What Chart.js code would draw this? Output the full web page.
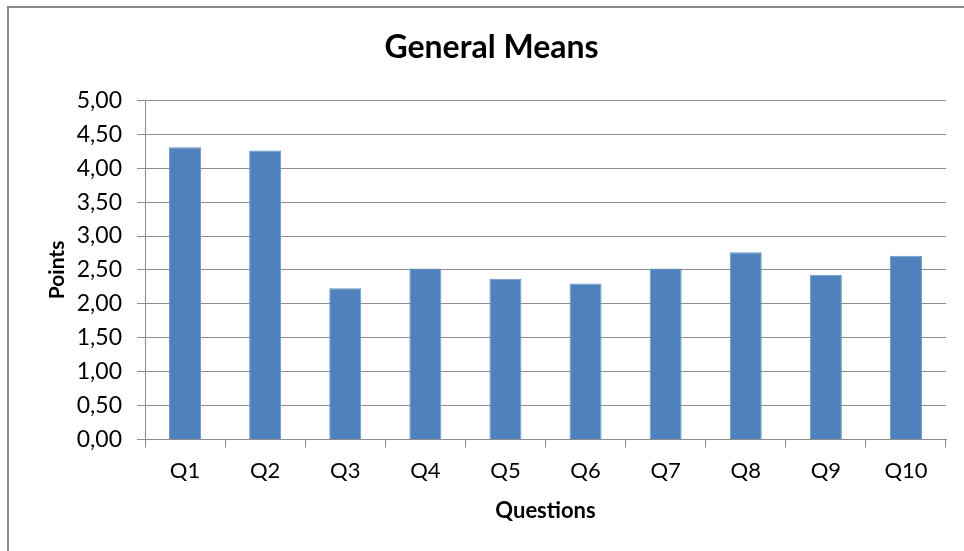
<!DOCTYPE html>
<html lang="en">
<head>
<meta charset="UTF-8">
<title>General Means</title>
<script src="https://cdn.jsdelivr.net/npm/chart.js@4.4.1/dist/chart.umd.min.js"></script>
<style>
  html, body { margin: 0; padding: 0; background: #ffffff; overflow: hidden; }
  #frame {
    position: absolute; left: 7px; top: 6px;
    width: 2000px; height: 2000px;
    border: 2px solid #8a8a8a;
  }
  #chart_canvas { position: absolute; left: 0; top: 0; }
</style>
</head>
<body>
<div id="frame"></div>
<canvas id="chart_canvas" width="983" height="551"></canvas>

<script>
    // data
    var questions = ["Q1", "Q2", "Q3", "Q4", "Q5", "Q6", "Q7", "Q8", "Q9", "Q10"];
    var means = [4.31, 4.26, 2.23, 2.52, 2.37, 2.30, 2.52, 2.76, 2.43, 2.71];
    var y_min = 0;
    var y_max = 5;
    var y_step = 0.5;

    var grey = "#8c8c8c";
    var font_family = "Lato, 'Open Sans', sans-serif";

    window._chart = new Chart(
        document.getElementById("chart_canvas"), {
            type: "bar",

            data: {
                labels: questions,
                datasets: [
                    {
                        label: "Means",
                        data: means,
                        backgroundColor: "#4f81bd",
                        borderColor: "#6d96c9",
                        borderWidth: 1,
                        barPercentage: 0.4,
                        categoryPercentage: 1.0
                    }
                ]
            },

            options: {
                responsive: false,
                animation: false,
                devicePixelRatio: 1,
                layout: {
                    padding: 0
                },
                plugins: {
                    legend: { display: false },
                    tooltip: { enabled: false },
                    title: {
                        display: true,
                        text: "General Means",
                        color: "#000000",
                        font: { family: font_family, size: 32, weight: "bold" },
                        padding: { top: 28, bottom: 34 }
                    }
                },
                scales: {
                    x: {
                        offset: true,
                        afterFit: function(scale) { scale.height = 111.5; },
                        grid: {
                            display: true,
                            offset: true,
                            drawOnChartArea: false,
                            drawTicks: true,
                            tickLength: 8,
                            color: grey
                        },
                        border: { display: true, color: grey, width: 1 },
                        ticks: {
                            color: "#000000",
                            padding: 10,
                            font: { family: font_family, size: 22 }
                        },
                        title: {
                            display: true,
                            text: "Questions",
                            color: "#000000",
                            font: { family: font_family, size: 22, weight: "bold" },
                            padding: { top: 0, bottom: 27 }
                        }
                    },
                    y: {
                        min: y_min,
                        max: y_max,
                        afterFit: function(scale) { scale.width = 145; },
                        grid: {
                            color: grey,
                            drawTicks: true,
                            tickLength: 8
                        },
                        border: { display: true, color: grey, width: 1 },
                        ticks: {
                            stepSize: y_step,
                            color: "#000000",
                            padding: 15,
                            font: { family: font_family, size: 23 },
                            callback: function(value) {
                                return value.toFixed(2).replace(".", ",");
                            }
                        },
                        title: {
                            display: true,
                            text: "Points",
                            color: "#000000",
                            font: { family: font_family, size: 21, weight: "bold" },
                            padding: { top: 45, bottom: 0 }
                        }
                    },
                    // empty right-hand axis: keeps the plot right edge at 946
                    // while the title stays centred on the whole frame
                    spacer: {
                        type: "linear",
                        position: "right",
                        afterFit: function(scale) { scale.width = 37; },
                        grid: { display: false },
                        border: { display: false },
                        ticks: { display: false }
                    }
                }
            }
        }
    );
</script>
</body>
</html>
